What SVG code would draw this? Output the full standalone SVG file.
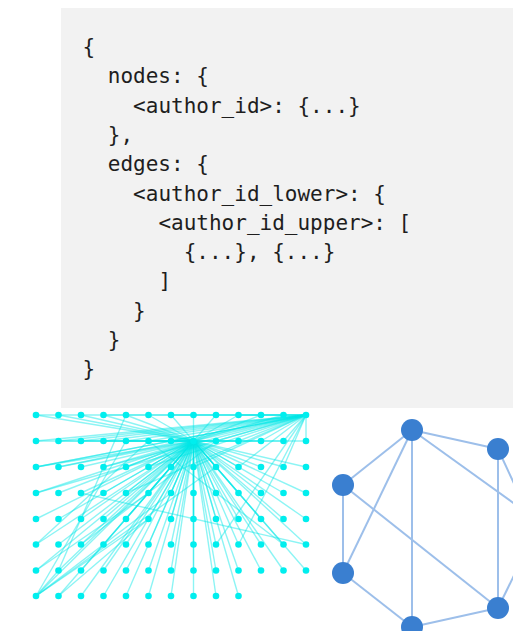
<svg xmlns="http://www.w3.org/2000/svg" width="513" height="631" viewBox="0 0 513 631">
<style>
  .code { font-family: "DejaVu Sans Mono", "Liberation Mono", monospace; font-size: 21px; fill: #1e1e1e; }
  .e path { fill: none; stroke: #00e6e6; stroke-opacity: 0.45; stroke-width: 1.4; }
  .dot { fill: #00eeee; }
  .b { fill: none; stroke: #9dbfea; stroke-width: 2; }
  .bn { fill: #3a7fd0; }
</style>

<!-- data schema panel -->
<g id="schema">
  <rect x="61" y="8" width="460" height="400" fill="#f2f2f2"/>
  <text class="code" x="82.5" y="54">{</text>
  <text class="code" x="107.8" y="83.3">nodes: {</text>
  <text class="code" x="133.1" y="112.6">&lt;author_id&gt;: {...}</text>
  <text class="code" x="107.8" y="141.9">},</text>
  <text class="code" x="107.8" y="171.2">edges: {</text>
  <text class="code" x="133.1" y="200.5">&lt;author_id_lower&gt;: {</text>
  <text class="code" x="158.4" y="229.8">&lt;author_id_upper&gt;: [</text>
  <text class="code" x="183.7" y="259.1">{...}, {...}</text>
  <text class="code" x="158.4" y="288.4">]</text>
  <text class="code" x="133.1" y="317.7">}</text>
  <text class="code" x="107.8" y="347">}</text>
  <text class="code" x="82.5" y="376.3">}</text>
</g>

<!-- grid graph: connectors -->
<g id="grid-edges" class="e">
  <!-- hub at column 7, row 1 -->
  <path d="M193.5 441L36 415"/><path d="M193.5 441L58.5 415"/><path d="M193.5 441L81 415"/><path d="M193.5 441L103.5 415"/><path d="M193.5 441L126 415"/><path d="M193.5 441L148.5 415"/><path d="M193.5 441L171 415"/><path d="M193.5 441L193.5 415"/><path d="M193.5 441L216 415"/><path d="M193.5 441L238.5 415"/><path d="M193.5 441L261 415"/><path d="M193.5 441L283.5 415"/><path d="M193.5 441L306 415"/>
  <path d="M193.5 441L36 441"/><path d="M193.5 441L58.5 441"/><path d="M193.5 441L81 441"/><path d="M193.5 441L103.5 441"/><path d="M193.5 441L126 441"/><path d="M193.5 441L148.5 441"/><path d="M193.5 441L171 441"/><path d="M193.5 441L216 441"/><path d="M193.5 441L238.5 441"/><path d="M193.5 441L261 441"/><path d="M193.5 441L283.5 441"/><path d="M193.5 441L306 441"/>
  <path d="M193.5 441L36 467"/><path d="M193.5 441L58.5 467"/><path d="M193.5 441L81 467"/><path d="M193.5 441L103.5 467"/><path d="M193.5 441L126 467"/><path d="M193.5 441L148.5 467"/><path d="M193.5 441L171 467"/><path d="M193.5 441L193.5 467"/><path d="M193.5 441L216 467"/><path d="M193.5 441L238.5 467"/><path d="M193.5 441L261 467"/><path d="M193.5 441L283.5 467"/><path d="M193.5 441L306 467"/>
  <path d="M193.5 441L36 493"/><path d="M193.5 441L58.5 493"/><path d="M193.5 441L81 493"/><path d="M193.5 441L103.5 493"/><path d="M193.5 441L126 493"/><path d="M193.5 441L148.5 493"/><path d="M193.5 441L171 493"/><path d="M193.5 441L193.5 493"/><path d="M193.5 441L216 493"/><path d="M193.5 441L238.5 493"/><path d="M193.5 441L261 493"/><path d="M193.5 441L283.5 493"/><path d="M193.5 441L306 493"/>
  <path d="M193.5 441L36 519"/><path d="M193.5 441L58.5 519"/><path d="M193.5 441L81 519"/><path d="M193.5 441L103.5 519"/><path d="M193.5 441L126 519"/><path d="M193.5 441L148.5 519"/><path d="M193.5 441L171 519"/><path d="M193.5 441L193.5 519"/><path d="M193.5 441L216 519"/><path d="M193.5 441L238.5 519"/><path d="M193.5 441L261 519"/><path d="M193.5 441L283.5 519"/><path d="M193.5 441L306 519"/>
  <path d="M193.5 441L36 544.5"/><path d="M193.5 441L58.5 544.5"/><path d="M193.5 441L81 544.5"/><path d="M193.5 441L103.5 544.5"/><path d="M193.5 441L126 544.5"/><path d="M193.5 441L148.5 544.5"/><path d="M193.5 441L171 544.5"/><path d="M193.5 441L193.5 544.5"/><path d="M193.5 441L216 544.5"/><path d="M193.5 441L238.5 544.5"/><path d="M193.5 441L261 544.5"/><path d="M193.5 441L283.5 544.5"/><path d="M193.5 441L306 544.5"/>
  <path d="M193.5 441L36 570.5"/><path d="M193.5 441L58.5 570.5"/><path d="M193.5 441L81 570.5"/><path d="M193.5 441L103.5 570.5"/><path d="M193.5 441L126 570.5"/><path d="M193.5 441L148.5 570.5"/><path d="M193.5 441L171 570.5"/><path d="M193.5 441L193.5 570.5"/><path d="M193.5 441L216 570.5"/><path d="M193.5 441L238.5 570.5"/><path d="M193.5 441L261 570.5"/><path d="M193.5 441L283.5 570.5"/><path d="M193.5 441L306 570.5"/>
  <path d="M193.5 441L36 596"/><path d="M193.5 441L58.5 596"/><path d="M193.5 441L81 596"/><path d="M193.5 441L103.5 596"/><path d="M193.5 441L126 596"/><path d="M193.5 441L148.5 596"/><path d="M193.5 441L171 596"/><path d="M193.5 441L193.5 596"/><path d="M193.5 441L216 596"/><path d="M193.5 441L238.5 596"/>
  <!-- hub at top-right corner -->
  <path d="M306 415L36 415"/><path d="M306 415L103.5 415"/><path d="M306 415L171 415"/><path d="M306 415L238.5 415"/>
  <path d="M306 415L36 441"/><path d="M306 415L58.5 441"/><path d="M306 415L81 441"/><path d="M306 415L103.5 441"/><path d="M306 415L126 441"/><path d="M306 415L148.5 441"/><path d="M306 415L171 441"/><path d="M306 415L216 441"/><path d="M306 415L238.5 441"/><path d="M306 415L261 441"/><path d="M306 415L283.5 441"/><path d="M306 415L306 441"/>
  <path d="M306 415L36 467"/><path d="M306 415L58.5 467"/><path d="M306 415L103.5 467"/><path d="M306 415L148.5 467"/><path d="M306 415L193.5 467"/><path d="M306 415L238.5 467"/><path d="M306 415L283.5 467"/>
  <path d="M306 415L36 493"/><path d="M306 415L126 493"/><path d="M306 415L216 544.5"/><path d="M306 415L238.5 544.5"/>
  <!-- hub at bottom-left corner -->
  <path d="M36 596L148.5 519"/><path d="M36 596L171 493"/><path d="M36 596L216 467"/><path d="M36 596L126 441"/><path d="M36 596L58.5 570.5"/>
  <!-- scattered edges -->
  <path d="M126 415L58.5 570.5"/><path d="M81 493L306 544.5"/><path d="M58.5 596L148.5 519"/><path d="M36 570.5L148.5 493"/><path d="M36 544.5L148.5 441"/><path d="M148.5 441L283.5 544.5"/><path d="M36 467L306 415"/><path d="M81 544.5L216 441"/>
</g>

<!-- grid graph: nodes -->
<g id="grid-nodes" class="dot">
  <g id="g0-0"><circle cx="36" cy="415" r="3.3"/></g><g id="g0-1"><circle cx="58.5" cy="415" r="3.3"/></g><g id="g0-2"><circle cx="81" cy="415" r="3.3"/></g><g id="g0-3"><circle cx="103.5" cy="415" r="3.3"/></g><g id="g0-4"><circle cx="126" cy="415" r="3.3"/></g><g id="g0-5"><circle cx="148.5" cy="415" r="3.3"/></g><g id="g0-6"><circle cx="171" cy="415" r="3.3"/></g><g id="g0-7"><circle cx="193.5" cy="415" r="3.3"/></g><g id="g0-8"><circle cx="216" cy="415" r="3.3"/></g><g id="g0-9"><circle cx="238.5" cy="415" r="3.3"/></g><g id="g0-10"><circle cx="261" cy="415" r="3.3"/></g><g id="g0-11"><circle cx="283.5" cy="415" r="3.3"/></g><g id="g0-12"><circle cx="306" cy="415" r="3.3"/></g>
  <g id="g1-0"><circle cx="36" cy="441" r="3.3"/></g><g id="g1-1"><circle cx="58.5" cy="441" r="3.3"/></g><g id="g1-2"><circle cx="81" cy="441" r="3.3"/></g><g id="g1-3"><circle cx="103.5" cy="441" r="3.3"/></g><g id="g1-4"><circle cx="126" cy="441" r="3.3"/></g><g id="g1-5"><circle cx="148.5" cy="441" r="3.3"/></g><g id="g1-6"><circle cx="171" cy="441" r="3.3"/></g><g id="g1-7"><circle cx="193.5" cy="441" r="3.3"/></g><g id="g1-8"><circle cx="216" cy="441" r="3.3"/></g><g id="g1-9"><circle cx="238.5" cy="441" r="3.3"/></g><g id="g1-10"><circle cx="261" cy="441" r="3.3"/></g><g id="g1-11"><circle cx="283.5" cy="441" r="3.3"/></g><g id="g1-12"><circle cx="306" cy="441" r="3.3"/></g>
  <g id="g2-0"><circle cx="36" cy="467" r="3.3"/></g><g id="g2-1"><circle cx="58.5" cy="467" r="3.3"/></g><g id="g2-2"><circle cx="81" cy="467" r="3.3"/></g><g id="g2-3"><circle cx="103.5" cy="467" r="3.3"/></g><g id="g2-4"><circle cx="126" cy="467" r="3.3"/></g><g id="g2-5"><circle cx="148.5" cy="467" r="3.3"/></g><g id="g2-6"><circle cx="171" cy="467" r="3.3"/></g><g id="g2-7"><circle cx="193.5" cy="467" r="3.3"/></g><g id="g2-8"><circle cx="216" cy="467" r="3.3"/></g><g id="g2-9"><circle cx="238.5" cy="467" r="3.3"/></g><g id="g2-10"><circle cx="261" cy="467" r="3.3"/></g><g id="g2-11"><circle cx="283.5" cy="467" r="3.3"/></g><g id="g2-12"><circle cx="306" cy="467" r="3.3"/></g>
  <g id="g3-0"><circle cx="36" cy="493" r="3.3"/></g><g id="g3-1"><circle cx="58.5" cy="493" r="3.3"/></g><g id="g3-2"><circle cx="81" cy="493" r="3.3"/></g><g id="g3-3"><circle cx="103.5" cy="493" r="3.3"/></g><g id="g3-4"><circle cx="126" cy="493" r="3.3"/></g><g id="g3-5"><circle cx="148.5" cy="493" r="3.3"/></g><g id="g3-6"><circle cx="171" cy="493" r="3.3"/></g><g id="g3-7"><circle cx="193.5" cy="493" r="3.3"/></g><g id="g3-8"><circle cx="216" cy="493" r="3.3"/></g><g id="g3-9"><circle cx="238.5" cy="493" r="3.3"/></g><g id="g3-10"><circle cx="261" cy="493" r="3.3"/></g><g id="g3-11"><circle cx="283.5" cy="493" r="3.3"/></g><g id="g3-12"><circle cx="306" cy="493" r="3.3"/></g>
  <g id="g4-0"><circle cx="36" cy="519" r="3.3"/></g><g id="g4-1"><circle cx="58.5" cy="519" r="3.3"/></g><g id="g4-2"><circle cx="81" cy="519" r="3.3"/></g><g id="g4-3"><circle cx="103.5" cy="519" r="3.3"/></g><g id="g4-4"><circle cx="126" cy="519" r="3.3"/></g><g id="g4-5"><circle cx="148.5" cy="519" r="3.3"/></g><g id="g4-6"><circle cx="171" cy="519" r="3.3"/></g><g id="g4-7"><circle cx="193.5" cy="519" r="3.3"/></g><g id="g4-8"><circle cx="216" cy="519" r="3.3"/></g><g id="g4-9"><circle cx="238.5" cy="519" r="3.3"/></g><g id="g4-10"><circle cx="261" cy="519" r="3.3"/></g><g id="g4-11"><circle cx="283.5" cy="519" r="3.3"/></g><g id="g4-12"><circle cx="306" cy="519" r="3.3"/></g>
  <g id="g5-0"><circle cx="36" cy="544.5" r="3.3"/></g><g id="g5-1"><circle cx="58.5" cy="544.5" r="3.3"/></g><g id="g5-2"><circle cx="81" cy="544.5" r="3.3"/></g><g id="g5-3"><circle cx="103.5" cy="544.5" r="3.3"/></g><g id="g5-4"><circle cx="126" cy="544.5" r="3.3"/></g><g id="g5-5"><circle cx="148.5" cy="544.5" r="3.3"/></g><g id="g5-6"><circle cx="171" cy="544.5" r="3.3"/></g><g id="g5-7"><circle cx="193.5" cy="544.5" r="3.3"/></g><g id="g5-8"><circle cx="216" cy="544.5" r="3.3"/></g><g id="g5-9"><circle cx="238.5" cy="544.5" r="3.3"/></g><g id="g5-10"><circle cx="261" cy="544.5" r="3.3"/></g><g id="g5-11"><circle cx="283.5" cy="544.5" r="3.3"/></g><g id="g5-12"><circle cx="306" cy="544.5" r="3.3"/></g>
  <g id="g6-0"><circle cx="36" cy="570.5" r="3.3"/></g><g id="g6-1"><circle cx="58.5" cy="570.5" r="3.3"/></g><g id="g6-2"><circle cx="81" cy="570.5" r="3.3"/></g><g id="g6-3"><circle cx="103.5" cy="570.5" r="3.3"/></g><g id="g6-4"><circle cx="126" cy="570.5" r="3.3"/></g><g id="g6-5"><circle cx="148.5" cy="570.5" r="3.3"/></g><g id="g6-6"><circle cx="171" cy="570.5" r="3.3"/></g><g id="g6-7"><circle cx="193.5" cy="570.5" r="3.3"/></g><g id="g6-8"><circle cx="216" cy="570.5" r="3.3"/></g><g id="g6-9"><circle cx="238.5" cy="570.5" r="3.3"/></g><g id="g6-10"><circle cx="261" cy="570.5" r="3.3"/></g><g id="g6-11"><circle cx="283.5" cy="570.5" r="3.3"/></g><g id="g6-12"><circle cx="306" cy="570.5" r="3.3"/></g>
  <g id="g7-0"><circle cx="36" cy="596" r="3.3"/></g><g id="g7-1"><circle cx="58.5" cy="596" r="3.3"/></g><g id="g7-2"><circle cx="81" cy="596" r="3.3"/></g><g id="g7-3"><circle cx="103.5" cy="596" r="3.3"/></g><g id="g7-4"><circle cx="126" cy="596" r="3.3"/></g><g id="g7-5"><circle cx="148.5" cy="596" r="3.3"/></g><g id="g7-6"><circle cx="171" cy="596" r="3.3"/></g><g id="g7-7"><circle cx="193.5" cy="596" r="3.3"/></g><g id="g7-8"><circle cx="216" cy="596" r="3.3"/></g><g id="g7-9"><circle cx="238.5" cy="596" r="3.3"/></g>
</g>

<!-- ring graph: connectors -->
<g id="ring-edges" class="b">
  <path d="M412 430L498 449"/>
  <path d="M412 430L343 485"/>
  <path d="M412 430L343 573"/>
  <path d="M412 430L412 627"/>
  <path d="M412 430L560 536.5"/>
  <path d="M343 485L343 573"/>
  <path d="M343 485L498 608"/>
  <path d="M343 573L412 627"/>
  <path d="M412 627L498 608"/>
  <path d="M498 449L498 608"/>
  <path d="M498 449L530 518"/>
  <path d="M498 608L530 543"/>
</g>

<!-- ring graph: nodes -->
<g id="r1" class="bn"><circle cx="412" cy="430" r="11"/></g>
<g id="r2" class="bn"><circle cx="498" cy="449" r="11"/></g>
<g id="r3" class="bn"><circle cx="343" cy="485" r="11"/></g>
<g id="r4" class="bn"><circle cx="343" cy="573" r="11"/></g>
<g id="r5" class="bn"><circle cx="412" cy="627" r="11"/></g>
<g id="r6" class="bn"><circle cx="498" cy="608" r="11"/></g>
</svg>
